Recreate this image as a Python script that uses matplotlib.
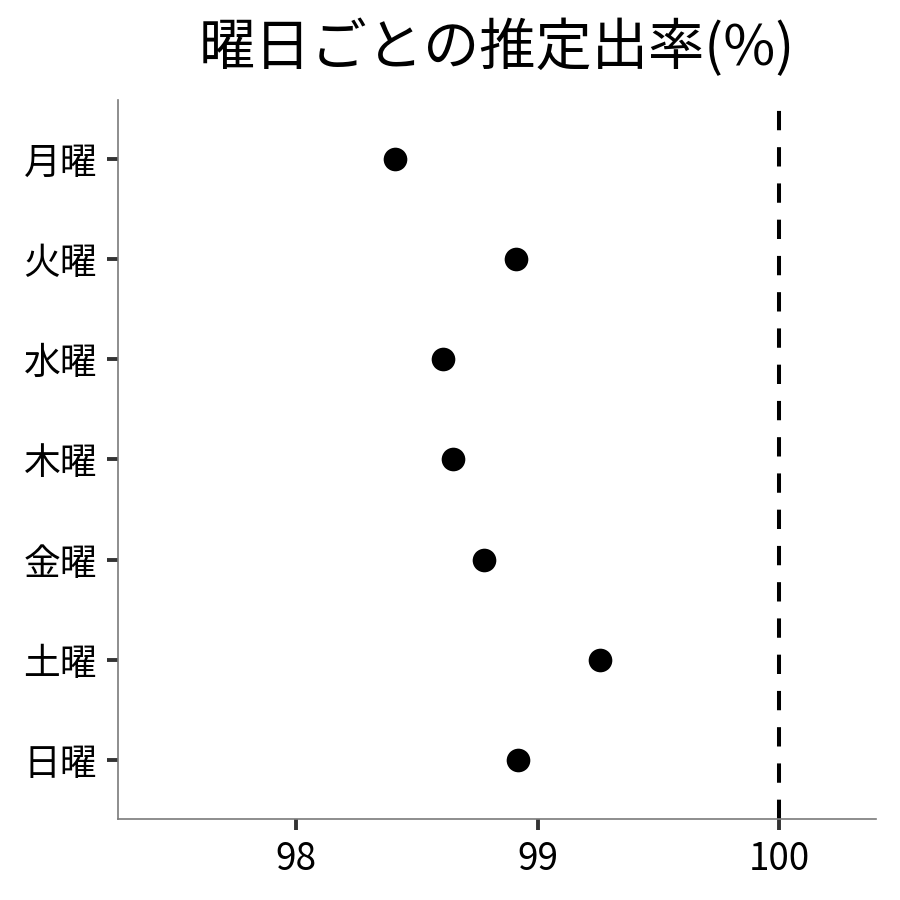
import matplotlib
matplotlib.use("Agg")
import matplotlib.pyplot as plt

plt.rcParams['font.family'] = ['Noto Sans CJK JP', 'DejaVu Sans']

days = ['月曜', '火曜', '水曜', '木曜', '金曜', '土曜', '日曜']
rates = [98.41, 98.91, 98.61, 98.65, 98.78, 99.26, 98.92]
xticks = [98, 99, 100]
ref_line = 100

fig = plt.figure(figsize=(9, 9), dpi=100)
ax = fig.add_axes([0.131, 0.09, 0.842, 0.799])

ypos = list(range(len(days), 0, -1))
ax.scatter(rates, ypos, s=290, color='black', zorder=3, linewidths=0)
ax.axvline(ref_line, color='black', lw=2.9, dashes=(4.8, 4.2), zorder=2)

ax.set_yticks(ypos)
ax.set_yticklabels(days)
ax.set_xticks(xticks)
ax.set_xlim(97.263, 100.40)
ax.set_ylim(0.41, 7.59)

for s in ['top', 'right']:
    ax.spines[s].set_visible(False)
for s in ['left', 'bottom']:
    ax.spines[s].set_color('#7a7a7a')
    ax.spines[s].set_linewidth(1.2)

ax.tick_params(axis='both', length=8, width=2.8, color='#333333',
               labelsize=26.5, pad=7, labelcolor='black')

ax.set_title('曜日ごとの推定出率(%)', fontsize=40.5, pad=25)

fig.savefig('out.png', dpi=100)
